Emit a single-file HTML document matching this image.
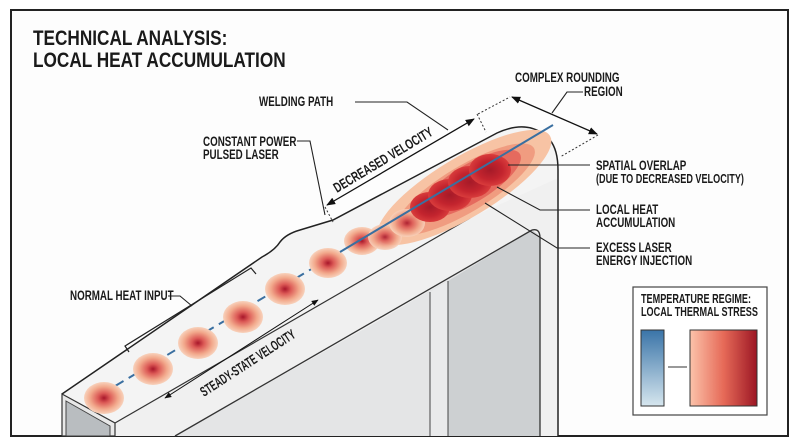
<!DOCTYPE html>
<html><head><meta charset="utf-8"><style>
html,body{margin:0;padding:0;background:#fff;}
svg{display:block;}
text{font-family:"Liberation Sans",sans-serif;fill:#1a1a1a;font-weight:bold;}
.l{font-size:14px;}
</style></head><body>
<svg width="800" height="447" viewBox="0 0 800 447" xmlns="http://www.w3.org/2000/svg">
<defs>
<radialGradient id="spot"><stop offset="0" stop-color="#a8162a"/><stop offset="0.3" stop-color="#dc5a56"/><stop offset="0.7" stop-color="#f2a98c"/><stop offset="1" stop-color="#f8d2bc"/></radialGradient>
<radialGradient id="hot"><stop offset="0" stop-color="#a51a28"/><stop offset="0.6" stop-color="#c3242e"/><stop offset="1" stop-color="#d93c3c"/></radialGradient>
<linearGradient id="blue" x1="0" y1="0" x2="0" y2="1"><stop offset="0" stop-color="#3a74a8"/><stop offset="1" stop-color="#d6e6ee"/></linearGradient>
<linearGradient id="red" x1="0" y1="0" x2="1" y2="0"><stop offset="0" stop-color="#fcc3aa"/><stop offset="0.5" stop-color="#e66a58"/><stop offset="1" stop-color="#9c1624"/></linearGradient>
<marker id="ah" viewBox="0 0 10 10" refX="9" refY="5" markerWidth="7" markerHeight="7" orient="auto-start-reverse"><path d="M0,1 L10,5 L0,9 Z" fill="#111"/></marker>
</defs>
<rect x="11" y="10" width="777" height="426" fill="#fdfdfd" stroke="#222" stroke-width="2"/>
<g transform="translate(33,45) scale(0.82,1)"><text font-size="21">TECHNICAL ANALYSIS:</text></g>
<g transform="translate(33,67) scale(0.82,1)"><text font-size="21">LOCAL HEAT ACCUMULATION</text></g>

<polygon points="115,423 470,218 540,180 558,175 558,436 115,436" fill="#f0f0f0"/>
<polygon points="175,436 380,320 532,230 540,236 540,436" fill="#e4e5e6"/>
<polygon points="448,281 532,230 540,236 540,436 448,436" fill="#cdd0d2"/>
<polygon points="430,292 448,281 448,436 430,436" fill="#e9eaeb"/>
<line x1="175" y1="436" x2="532" y2="230" stroke="#333" stroke-width="1.3"/>
<path d="M532,230 Q540,228 540,238 L540,436" fill="none" stroke="#333" stroke-width="1.3"/>
<line x1="430" y1="292" x2="430" y2="436" stroke="#444" stroke-width="1"/>
<line x1="448" y1="281" x2="448" y2="436" stroke="#444" stroke-width="1"/>
<path d="M62,394 L262,257 Q275,250 280,242 Q286,234 300,230 L333,220 L497,133 Q530,118 550,140 Q558,150 558,178 L470,218 L115,423 Z" fill="#f4f4f4"/>
<path d="M62,394 L262,257 Q275,250 280,242 Q286,234 300,230 L333,220 L497,133 Q530,118 550,140 Q558,150 558,170 L558,436" fill="none" stroke="#222" stroke-width="1.5"/>
<line x1="115" y1="423" x2="470" y2="218" stroke="#333" stroke-width="1.2"/>
<polygon points="62,394 115,423 115,436 62,436" fill="#e8e8e8" stroke="#333" stroke-width="1.2"/>
<polygon points="66,401 110,426 110,436 66,436" fill="#b9bdc0" stroke="#444" stroke-width="1"/>

<line x1="90" y1="401" x2="340" y2="252" stroke="#3a6fa0" stroke-width="2" stroke-dasharray="9,6"/>
<g fill="url(#spot)">
<ellipse cx="104" cy="398" rx="20" ry="16"/>
<ellipse cx="153" cy="369" rx="20" ry="16"/>
<ellipse cx="198" cy="343" rx="20" ry="16"/>
<ellipse cx="243" cy="317" rx="20" ry="16"/>
<ellipse cx="285" cy="289" rx="20" ry="16"/>
<ellipse cx="328" cy="263" rx="19" ry="15"/>
<ellipse cx="362" cy="241" rx="18" ry="14"/>
</g>
<g transform="rotate(-31 460 190)">
<ellipse cx="465" cy="190" rx="100" ry="30" fill="#f7c3a4"/>
<ellipse cx="465" cy="192" rx="80" ry="23" fill="#f09c80"/>
<ellipse cx="472" cy="190" rx="58" ry="19" fill="#e56a5e"/>
</g>
<g fill="url(#spot)" opacity="0.9">
<ellipse cx="385" cy="237" rx="17" ry="13"/>
<ellipse cx="407" cy="223" rx="18" ry="14"/>
</g>
<g fill="url(#hot)">
<ellipse cx="430" cy="207" rx="20" ry="15"/>
<ellipse cx="450" cy="195" rx="22" ry="16"/>
<ellipse cx="470" cy="182" rx="22" ry="16"/>
<ellipse cx="490" cy="170" rx="21" ry="16"/>
</g>
<line x1="340" y1="252" x2="553" y2="125" stroke="#3a6fa0" stroke-width="2"/>

<line x1="327" y1="205" x2="474" y2="119" stroke="#111" stroke-width="1.3" marker-start="url(#ah)" marker-end="url(#ah)"/>
<line x1="325" y1="207" x2="333" y2="222" stroke="#333" stroke-dasharray="2,2"/>
<line x1="477" y1="114" x2="486" y2="132" stroke="#333" stroke-dasharray="2,2"/>
<line x1="478" y1="114" x2="510" y2="97" stroke="#333" stroke-dasharray="2,2"/>
<line x1="512" y1="97" x2="597" y2="134" stroke="#111" stroke-width="1.3" marker-start="url(#ah)" marker-end="url(#ah)"/>
<line x1="598" y1="135" x2="560" y2="157" stroke="#333" stroke-dasharray="2,2"/>
<g transform="translate(337,193) rotate(-31) scale(0.7,1)"><text class="l">DECREASED VELOCITY</text></g>
<line x1="165" y1="398" x2="318" y2="300" stroke="#111" stroke-width="1" marker-start="url(#ah)" marker-end="url(#ah)"/>
<g transform="translate(204,397) rotate(-33) scale(0.62,1)"><text class="l">STEADY-STATE VELOCITY</text></g>
<path d="M129,352 L125,346 L251,268 L256,274" fill="none" stroke="#222" stroke-width="1.2"/>

<g stroke="#222" stroke-width="1.1" fill="none">
<polyline points="355,102 407,102 448,130"/>
<polyline points="583,92 567,92 552,113"/>
<polyline points="297,141 310,141 325,215"/>
<polyline points="508,165 590,165"/>
<polyline points="497,187 540,210 590,210"/>
<polyline points="485,203 557,248 590,248"/>
<polyline points="168,296 180,296 192,306"/>
</g>
<g transform="translate(259,106) scale(0.7,1)"><text class="l">WELDING PATH</text></g>
<g transform="translate(515,82) scale(0.7,1)"><text class="l">COMPLEX ROUNDING</text></g>
<g transform="translate(584,96) scale(0.7,1)"><text class="l">REGION</text></g>
<g transform="translate(203,146) scale(0.7,1)"><text class="l">CONSTANT POWER</text></g>
<g transform="translate(203,159) scale(0.7,1)"><text class="l">PULSED LASER</text></g>
<g transform="translate(596,170) scale(0.7,1)"><text class="l">SPATIAL OVERLAP</text></g>
<g transform="translate(596,183) scale(0.7,1)"><text font-size="13">(DUE TO DECREASED VELOCITY)</text></g>
<g transform="translate(596,214) scale(0.7,1)"><text class="l">LOCAL HEAT</text></g>
<g transform="translate(596,227) scale(0.7,1)"><text class="l">ACCUMULATION</text></g>
<g transform="translate(596,252) scale(0.7,1)"><text class="l">EXCESS LASER</text></g>
<g transform="translate(596,265) scale(0.7,1)"><text class="l">ENERGY INJECTION</text></g>
<g transform="translate(70,300) scale(0.7,1)"><text class="l">NORMAL HEAT INPUT</text></g>

<rect x="633" y="287" width="134" height="128" fill="#fff" stroke="#444" stroke-width="1.2"/>
<g transform="translate(641,303) scale(0.7,1)"><text font-size="13">TEMPERATURE REGIME:</text></g>
<g transform="translate(641,316) scale(0.7,1)"><text font-size="13">LOCAL THERMAL STRESS</text></g>
<rect x="641" y="330" width="23" height="76" fill="url(#blue)" stroke="#333"/>
<line x1="668" y1="367" x2="687" y2="367" stroke="#333"/>
<rect x="690" y="330" width="67" height="76" fill="url(#red)" stroke="#333"/>
</svg>
</body></html>
